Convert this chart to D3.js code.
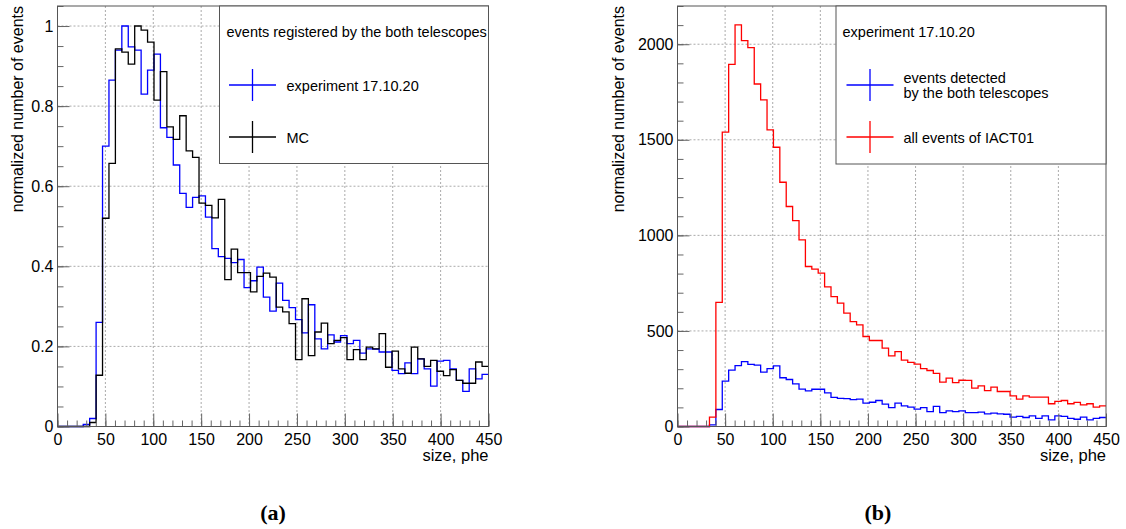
<!DOCTYPE html>
<html>
<head>
<meta charset="utf-8">
<script src="https://cdn.jsdelivr.net/npm/d3@7"></script>
<style>
  body { margin: 0; background: #fff; }
  svg text { font-family: "Liberation Sans", Arial, sans-serif; }
</style>
</head>
<body>
<script>
// size bins: 67 bins from 0 to 450 phe
var sizeRange = [0, 450];

// (a) events registered by the both telescopes, normalized
var expBoth = [0, 0, 0, 0, 0.005, 0.02, 0.26, 0.70, 0.865, 0.94,
  1.0, 0.948, 0.94, 0.83, 0.89, 0.93, 0.746, 0.722, 0.653, 0.582,
  0.547, 0.572, 0.576, 0.523, 0.444, 0.424, 0.42, 0.409, 0.417, 0.347,
  0.364, 0.398, 0.323, 0.288, 0.358, 0.315, 0.297, 0.267, 0.234, 0.304,
  0.219, 0.194, 0.229, 0.211, 0.227, 0.207, 0.215, 0.183, 0.194, 0.193,
  0.186, 0.186, 0.14, 0.132, 0.159, 0.132, 0.169, 0.144, 0.101, 0.163,
  0.165, 0.144, 0.115, 0.0875, 0.144, 0.119, 0.13];
var mcBoth = [0, 0, 0, 0, 0, 0.01, 0.128, 0.52, 0.657, 0.943,
  0.935, 0.905, 1.0, 0.99, 0.96, 0.815, 0.886, 0.748, 0.717, 0.776,
  0.688, 0.672, 0.558, 0.552, 0.521, 0.567, 0.367, 0.443, 0.384, 0.384,
  0.336, 0.375, 0.383, 0.373, 0.298, 0.286, 0.257, 0.167, 0.319, 0.177,
  0.236, 0.258, 0.207, 0.215, 0.222, 0.167, 0.192, 0.167, 0.198, 0.194,
  0.232, 0.148, 0.188, 0.144, 0.133, 0.198, 0.169, 0.15, 0.165, 0.138,
  0.127, 0.142, 0.115, 0.108, 0.108, 0.161, 0.15];

// (b) experiment 17.10.20
var detBoth = [0, 0, 0, 0, 0, 9, 89, 237, 295, 319,
  339, 325, 321, 284, 303, 317, 255, 246, 223, 196,
  186, 195, 195, 176, 152, 147, 146, 141, 143, 122,
  127, 136, 117, 99, 122, 108, 101, 91, 99, 78,
  105, 73, 82, 78, 82, 73, 73, 75, 66, 70,
  66, 64, 49, 53, 47, 56, 42, 56, 35, 56,
  53, 42, 38, 49, 35, 42, 47];
var allIact01 = [0, 0, 0, 0, 0, 49, 649, 1540, 1895, 2101,
  2019, 1982, 1792, 1709, 1552, 1461, 1278, 1151, 1077, 976,
  837, 823, 802, 730, 680, 645, 593, 549, 532, 471,
  450, 450, 410, 370, 392, 347, 335, 326, 303, 293,
  278, 232, 253, 230, 242, 241, 201, 213, 188, 206,
  183, 183, 160, 143, 160, 154, 154, 154, 119, 131,
  136, 119, 126, 113, 119, 101, 108];

var xMajor = [0, 50, 100, 150, 200, 250, 300, 350, 400, 450];
var yMajorA = [0, 0.2, 0.4, 0.6, 0.8, 1];
var yMajorB = [0, 500, 1000, 1500, 2000];

var svg = d3.select("body").append("svg").attr("width", 1126).attr("height", 529);

var plotTop = 6, plotBottom = 426.5;

function histPoints(vals) {
  var w = (sizeRange[1] - sizeRange[0]) / vals.length;
  var pts = vals.map(function(v, i){ return [sizeRange[0] + i * w, v]; });
  pts.push([sizeRange[1], vals[vals.length - 1]]);
  return pts;
}

function drawPanel(opt) {
  var x = d3.scaleLinear().domain(sizeRange).range([opt.left, opt.right]);
  var y = d3.scaleLinear().domain([0, opt.ymax]).range([plotBottom, plotTop]);
  var g = svg.append("g");

  // grid
  g.append("g").selectAll("line").data(xMajor.slice(1, -1)).enter().append("line")
    .attr("x1", function(d){ return x(d); }).attr("x2", function(d){ return x(d); })
    .attr("y1", plotTop).attr("y2", plotBottom)
    .attr("stroke", "#aaa").attr("stroke-dasharray", "2,2");
  g.append("g").selectAll("line").data(opt.yMajor.slice(1)).enter().append("line")
    .attr("x1", opt.left).attr("x2", opt.right)
    .attr("y1", function(d){ return y(d); }).attr("y2", function(d){ return y(d); })
    .attr("stroke", "#aaa").attr("stroke-dasharray", "2,2");

  // histograms
  var line = d3.line().x(function(d){ return x(d[0]); }).y(function(d){ return y(d[1]); })
    .curve(d3.curveStepAfter);
  opt.series.forEach(function(s){
    g.append("path").attr("d", line(histPoints(s.values)))
      .attr("fill", "none").attr("stroke", s.color).attr("stroke-width", 1.3);
  });

  // axes
  var xMinor = d3.axisBottom(x).tickValues(d3.range(0, 451, 10)).tickSize(-6).tickFormat("");
  var xAx = d3.axisBottom(x).tickValues(xMajor).tickSize(-13).tickPadding(7);
  var yMinor = d3.axisLeft(y).tickValues(d3.range(0, opt.ymax + 1e-9, opt.yMinorStep)).tickSize(-6).tickFormat("");
  var yAx = d3.axisLeft(y).tickValues(opt.yMajor).tickSize(-12).tickPadding(4)
    .tickFormat(function(d){ return String(d); });

  [xMinor, xAx].forEach(function(a){
    g.append("g").attr("transform", "translate(0," + plotBottom + ")").call(a);
  });
  [yMinor, yAx].forEach(function(a){
    g.append("g").attr("transform", "translate(" + opt.left + ",0)").call(a);
  });
  g.selectAll(".domain").remove();
  g.selectAll(".tick line").attr("stroke", "#666");
  g.selectAll(".tick text").attr("font-size", 16).attr("fill", "#000")
    .style("font-family", "'Liberation Sans', Arial, sans-serif");

  g.append("rect").attr("x", opt.left).attr("y", plotTop)
    .attr("width", opt.right - opt.left).attr("height", plotBottom - plotTop)
    .attr("fill", "none").attr("stroke", "#555");

  // titles
  g.append("text").attr("x", opt.right).attr("y", 461).attr("text-anchor", "end")
    .attr("font-size", 16.5).text("size, phe");
  g.append("text").attr("transform", "translate(" + opt.ytitleX + "," + plotTop + ") rotate(-90)")
    .attr("text-anchor", "end").attr("font-size", 16).text("normalized number of events");
  g.append("text").attr("x", opt.labelX).attr("y", 520).attr("text-anchor", "middle")
    .attr("font-size", 22).attr("font-weight", "bold")
    .style("font-family", "'Liberation Serif', 'Times New Roman', serif")
    .text(opt.label);

  // legend
  var L = opt.legend;
  var lg = g.append("g");
  lg.append("rect").attr("x", L.x).attr("y", plotTop).attr("width", opt.right - L.x).attr("height", L.h)
    .attr("fill", "#fff").attr("stroke", "#555");
  lg.append("text").attr("x", L.titleX).attr("y", 37).attr("font-size", 14.5).text(L.title);
  L.entries.forEach(function(e){
    lg.append("line").attr("x1", L.mx - 23.5).attr("x2", L.mx + 23.5)
      .attr("y1", e.y).attr("y2", e.y).attr("stroke", e.color).attr("stroke-width", 1.3);
    lg.append("line").attr("x1", L.mx).attr("x2", L.mx)
      .attr("y1", e.y - 16).attr("y2", e.y + 16).attr("stroke", e.color).attr("stroke-width", 1.3);
    var t = lg.append("text").attr("x", L.textX).attr("font-size", 14.5);
    var n = e.text.length;
    e.text.forEach(function(s, i){
      t.append("tspan").attr("x", L.textX).attr("y", e.y + 5.5 + (i - (n - 1) / 2) * 15).text(s);
    });
  });
}

drawPanel({
  left: 57.5, right: 488.5, ymax: 1.05, yMajor: yMajorA, yMinorStep: 0.05,
  ytitleX: 23, labelX: 273, label: "(a)",
  series: [{values: expBoth, color: "#0000ff"}, {values: mcBoth, color: "#000000"}],
  legend: {x: 219.5, h: 157.5, titleX: 226.5, title: "events registered by the both telescopes",
    mx: 252.5, textX: 286.5,
    entries: [{y: 85, color: "#0000ff", text: ["experiment 17.10.20"]},
              {y: 137, color: "#000000", text: ["MC"]}]}
});

drawPanel({
  left: 677.5, right: 1106, ymax: 2200, yMajor: yMajorB, yMinorStep: 100,
  ytitleX: 624, labelX: 878, label: "(b)",
  series: [{values: detBoth, color: "#0000ff"}, {values: allIact01, color: "#ff0000"}],
  legend: {x: 836, h: 158, titleX: 842.5, title: "experiment 17.10.20",
    mx: 870, textX: 903.5,
    entries: [{y: 85, color: "#0000ff", text: ["events detected", "by the both telescopes"]},
              {y: 137, color: "#ff0000", text: ["all events of IACT01"]}]}
});
</script>
</body>
</html>
